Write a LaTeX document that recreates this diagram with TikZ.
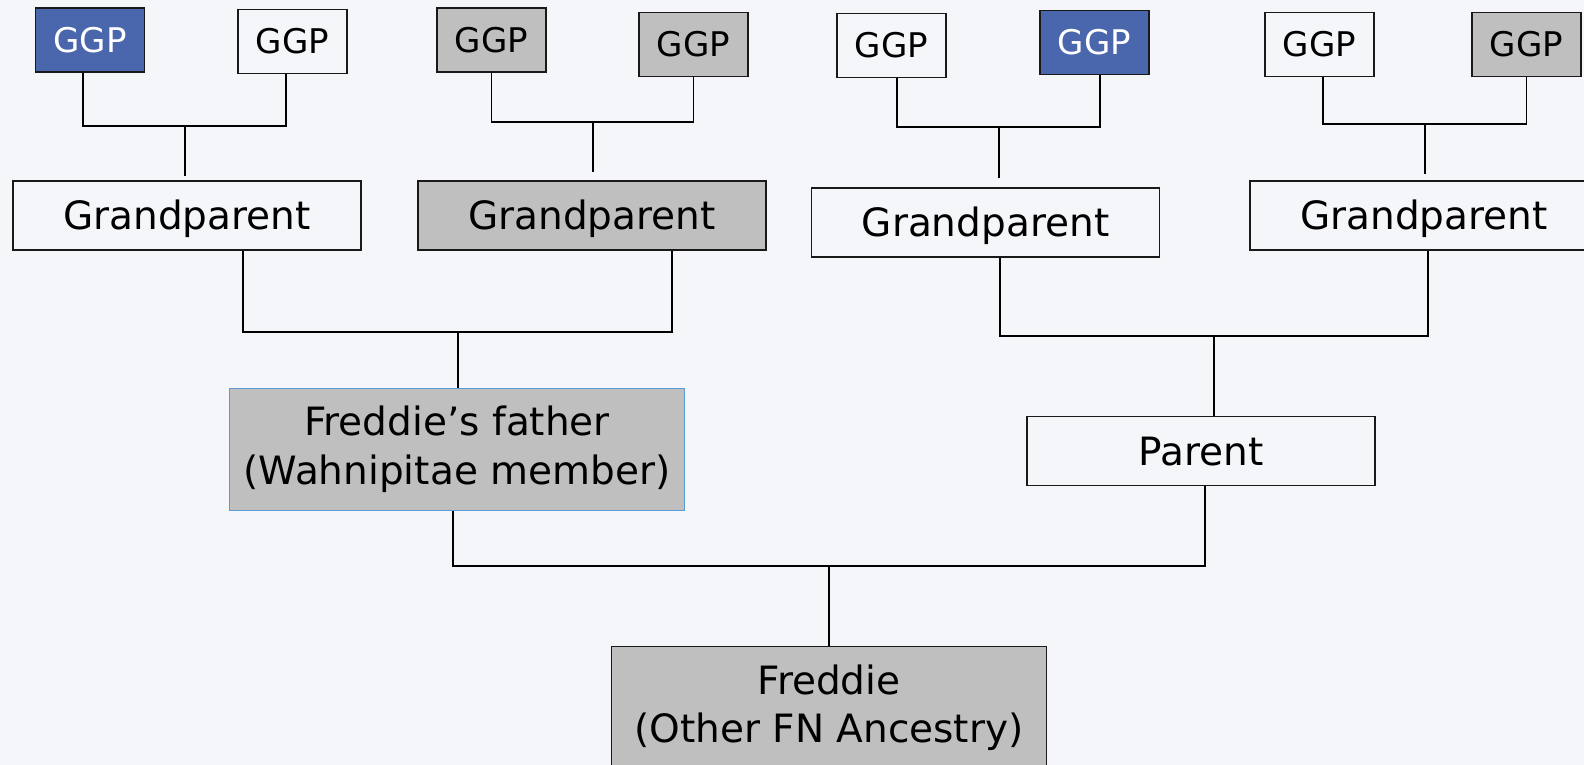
\documentclass[tikz,border=0pt]{standalone}
\usepackage{fontspec}
\setmainfont{DejaVu Sans}
\definecolor{bgcol}{HTML}{F5F6FA}
\definecolor{boxgray}{HTML}{BFBFBF}
\definecolor{ggpblue}{HTML}{4A66AC}
\definecolor{edgeblue}{HTML}{5B9BD5}
\begin{document}
\begin{tikzpicture}[x=1pt,y=-1pt,
    box/.style={draw=black!90,line width=1.6pt,fill=bgcol,inner sep=0pt,align=center},
    ggp/.style={box,minimum width=109pt,minimum height=64pt,text height=25pt,text depth=0pt,font=\fontsize{34}{40}\selectfont},
    gp/.style={box,minimum width=348pt,minimum height=69pt,text height=28pt,text depth=0pt,font=\fontsize{39}{49}\selectfont},
    big/.style={box,fill=boxgray,font=\fontsize{39}{49}\selectfont},
    greybox/.style={fill=boxgray},
    bluebox/.style={fill=ggpblue,text=white},
    link/.style={line width=1.3pt,black}]
  \useasboundingbox (0,0) rectangle (1584,765);
  \fill[bgcol] (0,0) rectangle (1584,765);
  \clip (0,0) rectangle (1584,765);

  % great-grandparents
  \node[ggp,bluebox] (ggpA) at (90,40) {GGP};
  \node[ggp] (ggpB) at (292.5,41.5) {GGP};
  \node[ggp,greybox] (ggpC) at (491.5,40) {GGP};
  \node[ggp,greybox] (ggpD) at (693.5,44.5) {GGP};
  \node[ggp] (ggpE) at (891.5,45.5) {GGP};
  \node[ggp,bluebox] (ggpF) at (1094.5,42.5) {GGP};
  \node[ggp] (ggpG) at (1319.5,44.5) {GGP};
  \node[ggp,greybox] (ggpH) at (1526.5,44.5) {GGP};

  % grandparents
  \node[gp] (gpA) at (187,215.5) {Grandparent};
  \node[gp,greybox] (gpB) at (592,215.5) {Grandparent};
  \node[gp] (gpC) at (985.5,222.5) {Grandparent};
  \node[gp] (gpD) at (1424,215.5) {Grandparent};

  % parents and Freddie
  \node[big,draw=edgeblue,line width=1.3pt,minimum width=455pt,minimum height=122pt] (father) at (457,449.5) {Freddie’s father\\(Wahnipitae member)};
  \node[gp] (parent) at (1201,451) {Parent};
  \node[big,minimum width=435pt,minimum height=123pt,font=\fontsize{39}{48}\selectfont] (freddie) at (829,708) {Freddie\\(Other FN Ancestry)};

  % junctions
  \coordinate (jA) at (185,126);  \coordinate (sA) at (185,176);
  \coordinate (jB) at (593,122);  \coordinate (sB) at (593,172);
  \coordinate (jC) at (999,127);  \coordinate (sC) at (999,178);
  \coordinate (jD) at (1425,124); \coordinate (sD) at (1425,174);
  \coordinate (jE) at (458,332);
  \coordinate (jF) at (1214,336);
  \coordinate (jG) at (829,566);

  \draw[link] ([xshift=-7pt]ggpA.south) |- (jA) -| ([xshift=-6.5pt]ggpB.south);
  \draw[link] (jA) -- (sA);
  \draw[link] (ggpC.south) |- (jB) -| (ggpD.south);
  \draw[link] (jB) -- (sB);
  \draw[link] ([xshift=5.5pt]ggpE.south) |- (jC) -| ([xshift=5.5pt]ggpF.south);
  \draw[link] (jC) -- (sC);
  \draw[link] ([xshift=3.5pt]ggpG.south) |- (jD) -| (ggpH.south);
  \draw[link] (jD) -- (sD);

  \draw[link] ([xshift=56pt]gpA.south) |- (jE) -| ([xshift=80pt]gpB.south);
  \draw[link] (jE) -- (jE |- father.north);
  \draw[link] ([xshift=14.5pt]gpC.south) |- (jF) -| ([xshift=4pt]gpD.south);
  \draw[link] (jF) -- (jF |- parent.north);

  \draw[link] ([xshift=-4pt]father.south) |- (jG) -| ([xshift=4pt]parent.south);
  \draw[link] (jG) -- (freddie.north);
\end{tikzpicture}
\end{document}
